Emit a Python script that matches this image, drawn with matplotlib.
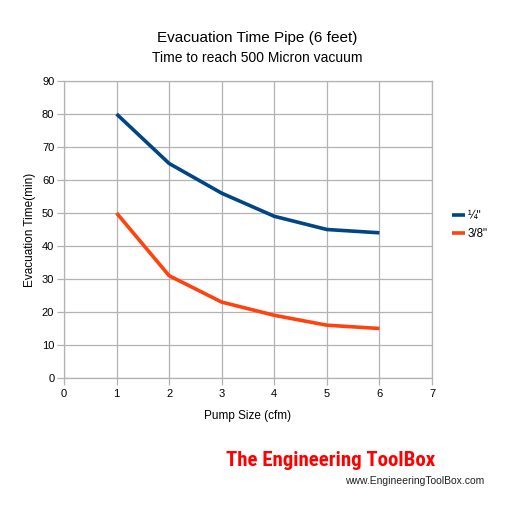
import matplotlib
matplotlib.use("Agg")
import matplotlib.pyplot as plt
from matplotlib import font_manager

pump_size = [1, 2, 3, 4, 5, 6]
quarter = [80, 65, 56, 49, 45, 44]
three_eighths = [50, 31, 23, 19, 16, 15]
series_labels = ['¼"', '3/8"']
x_ticks = [0, 1, 2, 3, 4, 5, 6, 7]
y_ticks = [0, 10, 20, 30, 40, 50, 60, 70, 80, 90]

plt.rcParams['font.family'] = ['Liberation Sans', 'DejaVu Sans']

# find a condensed/narrow font if installed
narrow = None
names = sorted({f.name for f in font_manager.fontManager.ttflist})
for cand in ['Liberation Sans Narrow', 'Roboto Condensed', 'DejaVu Sans Condensed', 'Open Sans Condensed']:
    if cand in names:
        narrow = cand
        break
cond_stretch = 'normal'
if narrow is None:
    narrow = 'DejaVu Sans'
    cond_stretch = 'condensed'

fig = plt.figure(figsize=(5.14, 5.14), dpi=100)
ax = fig.add_axes([64/514, 1-378/514, (432-64)/514, (378-81)/514])

ax.plot(pump_size, quarter, color='#004586', lw=2.6, label=series_labels[0], solid_capstyle='butt')
ax.plot(pump_size, three_eighths, color='#ff420e', lw=2.6, label=series_labels[1], solid_capstyle='butt')

ax.set_xlim(0, 7)
ax.set_ylim(0, 90)
ax.set_xticks(x_ticks)
ax.set_yticks(y_ticks)
ax.grid(True, color='#b3b3b3', lw=0.9)
ax.set_axisbelow(True)
for s in ax.spines.values():
    s.set_color('#b3b3b3')
    s.set_linewidth(0.9)
ax.tick_params(axis='both', colors='#b3b3b3', labelcolor='black', labelsize=8, length=5, width=0.9)
ax.tick_params(axis='y', pad=2)
ax.tick_params(axis='x', pad=3)

ax.set_xlabel('Pump Size (cfm)', fontsize=8.5, labelpad=8)
ax.set_ylabel('Evacuation Time(min)', fontsize=8.5, labelpad=4)

fig.text(0.5, 1-38/514, 'Evacuation Time Pipe (6 feet)', ha='center', va='center', fontsize=11)
fig.text(0.5, 1-58/514, 'Time to reach 500 Micron vacuum', ha='center', va='center', fontsize=10)

leg = ax.legend(loc='center left', bbox_to_anchor=(1.025, 0.515), frameon=False, fontsize=8.3,
                handlelength=1.2, handletextpad=0.2, labelspacing=0.45)

t = fig.text(331/514, 1-461/514, 'The Engineering ToolBox', ha='center', va='center', color='#ff0000',
             fontsize=17, fontweight='bold', family=[narrow], fontstretch=cond_stretch)
# fit width to reference (~210 px)
fig.canvas.draw()
w = t.get_window_extent().width
if w > 0:
    t.set_fontsize(17 * min(1.3, 210.0 / w))
fig.text(484/514, 1-481/514, 'www.EngineeringToolBox.com', ha='right', va='center', color='#222222',
         fontsize=7.5)

fig.savefig('out.png', dpi=100, facecolor='white')
